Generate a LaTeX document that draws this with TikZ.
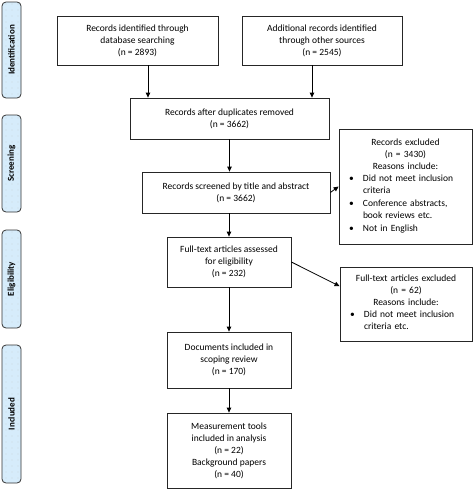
\documentclass[tikz,border=0pt]{standalone}
\usepackage{fontspec}
\setmainfont{Carlito}
\usetikzlibrary{arrows.meta,patterns.meta}

\definecolor{phasefill}{RGB}{214,236,251}
\definecolor{phasedot}{RGB}{188,182,170}
\newcommand{\reasonitem}[1]{\par\noindent\makebox[24pt][l]{\hspace{10pt}\textbullet}\parbox[t]{105pt}{\strut#1\strut}\par}

\begin{document}
\begin{tikzpicture}[x=1pt,y=1pt,yscale=-1,xscale=1,
  every node/.style={font=\fontsize{9.5}{12}\selectfont},
  phase/.style={draw=black!80,line width=0.8pt,rounded corners=4pt,preaction={fill=phasefill},
    pattern={Dots[distance=6pt,radius=0.35pt]},pattern color=phasedot,rotate=90,
    minimum height=19,inner sep=0pt,font=\fontsize{9}{12}\selectfont\bfseries},
  flowbox/.style={draw=black!85,line width=0.8pt,align=center,inner sep=0pt},
  exclbox/.style={draw=black!85,line width=0.8pt,inner sep=0pt},
  arr/.style={line width=0.8pt,-{Triangle[length=5pt,width=4.5pt]}}]
\useasboundingbox (0,0) rectangle (473,490);

%Phase labels
\node[phase,minimum width=96] (idlabel) at (11.5,50) {Identification};
\node[phase,minimum width=97] (screenlabel) at (11.5,163.5) {Screening};
\node[phase,minimum width=98] (eliglabel) at (11.5,279) {Eligibility};
\node[phase,minimum width=138] (inclabel) at (11.5,414) {Included};

%Flow boxes
\node[flowbox,minimum width=161,minimum height=49] (db) at (137.5,40.5) {Records identified through\\database searching\\(n = 2893)};
\node[flowbox,minimum width=160,minimum height=49] (other) at (322,40.5) {Additional records identified\\through other sources\\(n = 2545)};
\node[flowbox,minimum width=199,minimum height=41] (dup) at (229.5,118.5) {Records after duplicates removed\\(n = 3662)};
\node[flowbox,minimum width=188,minimum height=41] (screen) at (236,192.5) {Records screened by title and abstract\\(n = 3662)};
\node[flowbox,minimum width=124,minimum height=50] (fulltext) at (229,262) {Full-text articles assessed\\for eligibility\\(n = 232)};
\node[flowbox,minimum width=124,minimum height=56] (scoping) at (229,360) {Documents included in\\scoping review\\(n = 170)};
\node[flowbox,minimum width=124,minimum height=75] (tools) at (229,450.5) {Measurement tools\\included in analysis\\(n = 22)\\Background papers\\(n = 40)};

%Exclusion boxes
\node[exclbox,text width=133,minimum height=115] (exclrec) at (405.5,186.5) {{\centering Records excluded\\(n = 3430)\\Reasons include:\par}%
  \reasonitem{Did not meet inclusion\\criteria}%
  \reasonitem{Conference abstracts,\\book reviews etc.}%
  \reasonitem{Not in English}};
\node[exclbox,text width=132,minimum height=74] (exclfull) at (406,304) {{\centering Full-text articles excluded\\(n = 62)\\Reasons include:\par}%
  \reasonitem{Did not meet inclusion\\criteria etc.}};

%Arrows
\draw[arr] ([xshift=10.5]db.south) -- ([xshift=10.5]db.south |- dup.north);
\draw[arr] ([xshift=-10]other.south) -- ([xshift=-10]other.south |- dup.north);
\draw[arr] (dup.south) -- (dup.south |- screen.north);
\draw[arr] (fulltext.north |- screen.south) -- (fulltext.north);
\draw[arr] (fulltext) -- (scoping);
\draw[arr] (scoping) -- (tools);
\draw[arr] (screen.east) -- (exclrec.west);
\draw[arr] (fulltext.east) -- (exclfull.165);
\end{tikzpicture}
\end{document}
